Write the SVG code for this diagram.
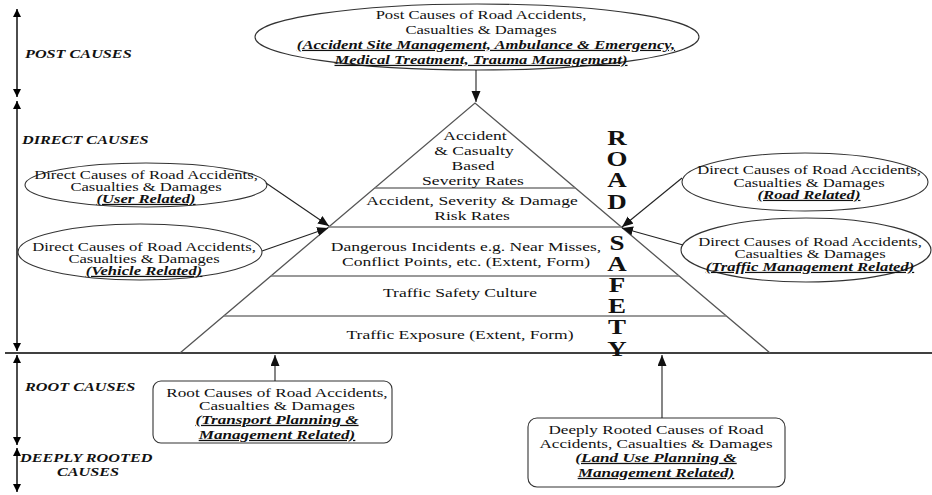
<svg xmlns="http://www.w3.org/2000/svg" width="932" height="495" viewBox="0 0 932 495">
<style>
.t{font-family:"Liberation Serif","Times New Roman",serif;fill:#111}
.py{font-size:13px;text-anchor:middle}
.el{font-size:12.3px;text-anchor:middle}
.bx{font-size:12.7px;text-anchor:middle}
.u{font-weight:bold;font-style:italic;text-decoration:underline}
.lab{font-weight:bold;font-style:italic;font-size:12px}
.rs{font-weight:bold;font-size:20px;text-anchor:middle}
.shape{fill:#fff;stroke:#333;stroke-width:1.1}
.pyr{fill:none;stroke:#555;stroke-width:1.3}
.layer{stroke:#777;stroke-width:1.6}
.conn{stroke:#222;stroke-width:1.1;fill:none}
.axis{stroke:#000;stroke-width:1.4;fill:none}
</style>
<defs>
<marker id="ah" markerUnits="userSpaceOnUse" markerWidth="12" markerHeight="10" refX="11" refY="4.5" orient="auto">
<path d="M0,0 L11,4.5 L0,9 z" fill="#111"/>
</marker>
<marker id="ax" markerUnits="userSpaceOnUse" markerWidth="10" markerHeight="10" refX="8" refY="4" orient="auto-start-reverse">
<path d="M0,0 L8,4 L0,8 z" fill="#000"/>
</marker>
</defs>
<rect width="932" height="495" fill="#fff"/>

<g id="axis">
<line class="axis" x1="5" y1="353" x2="932" y2="353"/>
<line class="axis" x1="17" y1="9" x2="17" y2="97" marker-start="url(#ax)" marker-end="url(#ax)"/>
<line class="axis" x1="17" y1="101" x2="17" y2="351" marker-start="url(#ax)" marker-end="url(#ax)"/>
<line class="axis" x1="17" y1="355" x2="17" y2="445" marker-start="url(#ax)" marker-end="url(#ax)"/>
<line class="axis" x1="17" y1="448" x2="17" y2="492" marker-start="url(#ax)" marker-end="url(#ax)"/>
</g>

<g id="labels">
<text class="t lab" transform="translate(25,58) scale(1.35,1)">POST CAUSES</text>
<text class="t lab" transform="translate(22,144) scale(1.35,1)">DIRECT CAUSES</text>
<text class="t lab" transform="translate(25,391) scale(1.35,1)">ROOT CAUSES</text>
<text class="t lab" transform="translate(20,462) scale(1.35,1)">DEEPLY ROOTED</text>
<text class="t lab" transform="translate(57,476) scale(1.35,1)">CAUSES</text>
</g>

<g id="pyramid">
<path class="pyr" d="M180,353 L475,103 L770,353"/>
<line class="layer" x1="375" y1="188" x2="575" y2="188"/>
<line class="layer" x1="329" y1="227" x2="621" y2="227"/>
<line class="layer" x1="271" y1="276" x2="679" y2="276"/>
<line class="layer" x1="224" y1="316" x2="726" y2="316"/>
<text class="t py" transform="translate(475,140) scale(1.35,1)">Accident</text>
<text class="t py" transform="translate(474,155) scale(1.35,1)">&amp; Casualty</text>
<text class="t py" transform="translate(473,170) scale(1.35,1)">Based</text>
<text class="t py" transform="translate(473,185) scale(1.35,1)">Severity Rates</text>
<text class="t py" transform="translate(472,205) scale(1.35,1)">Accident, Severity &amp; Damage</text>
<text class="t py" transform="translate(472,220) scale(1.35,1)">Risk Rates</text>
<text class="t py" transform="translate(466,251) scale(1.35,1)">Dangerous Incidents e.g. Near Misses,</text>
<text class="t py" transform="translate(466,266) scale(1.35,1)">Conflict Points, etc. (Extent, Form)</text>
<text class="t py" transform="translate(460,297) scale(1.35,1)">Traffic Safety Culture</text>
<text class="t py" transform="translate(460,339) scale(1.35,1)">Traffic Exposure (Extent, Form)</text>
</g>

<g id="road-safety">
<text class="t rs" transform="translate(617,145) scale(1.35,1)">R</text>
<text class="t rs" transform="translate(617,166) scale(1.35,1)">O</text>
<text class="t rs" transform="translate(617,187) scale(1.35,1)">A</text>
<text class="t rs" transform="translate(617,209) scale(1.35,1)">D</text>
<text class="t rs" transform="translate(617,250) scale(1.35,1)">S</text>
<text class="t rs" transform="translate(617,271) scale(1.35,1)">A</text>
<text class="t rs" transform="translate(617,292) scale(1.35,1)">F</text>
<text class="t rs" transform="translate(617,313) scale(1.35,1)">E</text>
<text class="t rs" transform="translate(617,334) scale(1.35,1)">T</text>
<text class="t rs" transform="translate(617,356) scale(1.35,1)">Y</text>
</g>

<g id="post-causes">
<ellipse class="shape" cx="477" cy="37" rx="222" ry="33"/>
<text class="t el" transform="translate(481,19) scale(1.35,1)">Post Causes of Road Accidents,</text>
<text class="t el" transform="translate(481,34) scale(1.35,1)">Casualties &amp; Damages</text>
<text class="t el u" transform="translate(486,49) scale(1.35,1)">(Accident Site Management, Ambulance &amp; Emergency,</text>
<text class="t el u" transform="translate(481,64) scale(1.35,1)">Medical Treatment, Trauma Management)</text>
</g>

<g id="direct-user">
<ellipse class="shape" cx="146" cy="185" rx="121" ry="22"/>
<text class="t el" transform="translate(146,179) scale(1.35,1)">Direct Causes of Road Accidents,</text>
<text class="t el" transform="translate(146,191) scale(1.35,1)">Casualties &amp; Damages</text>
<text class="t el u" transform="translate(146,203) scale(1.35,1)">(User Related)</text>
</g>

<g id="direct-vehicle">
<ellipse class="shape" cx="140" cy="252" rx="122" ry="28"/>
<text class="t el" transform="translate(144,251) scale(1.35,1)">Direct Causes of Road Accidents,</text>
<text class="t el" transform="translate(144,263) scale(1.35,1)">Casualties &amp; Damages</text>
<text class="t el u" transform="translate(144,275) scale(1.35,1)">(Vehicle Related)</text>
</g>

<g id="direct-road">
<ellipse class="shape" cx="805" cy="182" rx="123" ry="29"/>
<text class="t el" transform="translate(809,174) scale(1.35,1)">Direct Causes of Road Accidents,</text>
<text class="t el" transform="translate(809,187) scale(1.35,1)">Casualties &amp; Damages</text>
<text class="t el u" transform="translate(809,199) scale(1.35,1)">(Road Related)</text>
</g>

<g id="direct-traffic">
<ellipse class="shape" cx="806" cy="250" rx="125" ry="32"/>
<text class="t el" transform="translate(810,246) scale(1.35,1)">Direct Causes of Road Accidents,</text>
<text class="t el" transform="translate(810,258) scale(1.35,1)">Casualties &amp; Damages</text>
<text class="t el u" transform="translate(810,271) scale(1.35,1)">(Traffic Management Related)</text>
</g>

<g id="root-causes">
<rect class="shape" x="153" y="381" width="239" height="62" rx="8"/>
<text class="t bx" transform="translate(277,397) scale(1.35,1)">Root Causes of Road Accidents,</text>
<text class="t bx" transform="translate(277,410) scale(1.35,1)">Casualties &amp; Damages</text>
<text class="t bx u" transform="translate(277,424) scale(1.35,1)">(Transport Planning &amp;</text>
<text class="t bx u" transform="translate(277,439) scale(1.35,1)">Management Related)</text>
</g>

<g id="deep-causes">
<rect class="shape" x="528" y="418" width="257" height="69" rx="9"/>
<text class="t bx" transform="translate(656,434) scale(1.35,1)">Deeply Rooted Causes of Road</text>
<text class="t bx" transform="translate(656,448) scale(1.35,1)">Accidents, Casualties &amp; Damages</text>
<text class="t bx u" transform="translate(656,462) scale(1.35,1)">(Land Use Planning &amp;</text>
<text class="t bx u" transform="translate(656,477) scale(1.35,1)">Management Related)</text>
</g>

<g id="connectors">
<line class="conn" x1="476" y1="70" x2="476" y2="102" marker-end="url(#ah)"/>
<line class="conn" x1="266" y1="183" x2="329" y2="226" marker-end="url(#ah)"/>
<line class="conn" x1="262" y1="251" x2="328" y2="228" marker-end="url(#ah)"/>
<line class="conn" x1="682" y1="178" x2="622" y2="227" marker-end="url(#ah)"/>
<line class="conn" x1="683" y1="245" x2="622" y2="228" marker-end="url(#ah)"/>
<line class="conn" x1="275" y1="381" x2="275" y2="355" marker-end="url(#ah)"/>
<line class="conn" x1="662" y1="418" x2="662" y2="355" marker-end="url(#ah)"/>
</g>
</svg>
